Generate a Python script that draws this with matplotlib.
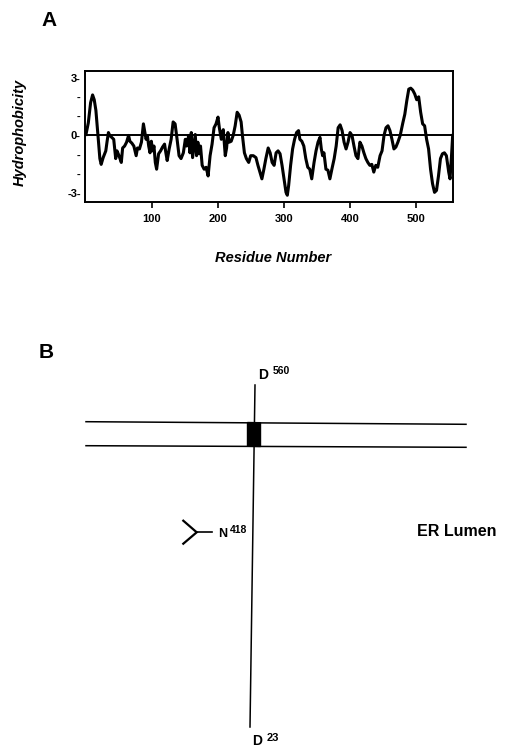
import numpy as np
import matplotlib
matplotlib.use('Agg')
import matplotlib.pyplot as plt

plt.rcParams['font.family'] = ['Liberation Sans', 'DejaVu Sans']
plt.rcParams['font.weight'] = 'bold'

# Perfil de hidrofobicidad
residuo = [0, 3.5, 7, 10, 12.5, 15, 17, 19, 21, 23,
           26, 30, 32, 34, 36, 39, 42, 45, 47, 50,
           53.5, 55.5, 58.5, 61.5, 64.5, 66.5, 69.5, 72.5, 76, 78,
           81, 84, 87, 89, 91, 93, 95, 97, 99, 101,
           103, 105, 107, 110, 113, 116, 119, 121, 123, 126,
           129, 132, 135, 138, 141, 144, 147.5, 150.5, 152.5, 155.5,
           157.5, 159.5, 161.5, 163.5, 165.5, 167.5, 169.5, 171.5, 173.5, 176,
           179, 182, 185, 188, 191, 194, 197, 200, 202, 205,
           208, 211, 213, 215, 217, 220, 223, 226, 229, 232,
           235, 237, 240, 243, 246.5, 249.5, 253.5, 257.5, 260.5, 263.5,
           266.5, 269.5, 272.5, 276, 279, 282, 285, 288, 291, 294,
           297, 300, 303, 305, 307, 310, 313, 316, 319, 322,
           324, 327, 330, 333, 336, 339, 342, 345.5, 348.5, 351.5,
           354.5, 356.5, 358.5, 360.5, 363.5, 366.5, 369.5, 372.5, 376, 379,
           382, 385, 388, 391, 394, 397, 400, 403, 406, 409,
           412, 415, 418, 421, 424, 427, 430, 433, 436, 439,
           442, 445.5, 448.5, 451.5, 454.5, 457.5, 460.5, 463.5, 466.5, 469.5,
           472.5, 476, 480, 483, 486, 489, 492, 495, 498, 501,
           504, 507, 510, 513, 516, 519, 522, 525, 528, 531,
           534, 537, 540, 543, 546, 549.5, 551.5, 553.5, 555.5]

hidrofobicidad = [0.05, 0.65, 1.7, 2.1, 1.85, 1.3, 0.5, -0.35, -1.2, -1.5,
                  -1.15, -0.8, -0.3, 0.15, 0, -0.1, -0.2, -1.2, -0.8, -1.05,
                  -1.4, -0.65, -0.55, -0.35, 0, -0.3, -0.4, -0.55, -1.05, -0.65,
                  -0.7, -0.35, 0.6, 0.2, -0.2, 0, -0.55, -0.9, -0.3, -0.8,
                  -0.55, -1.4, -1.75, -0.95, -0.8, -0.6, -0.45, -0.9, -1.3, -0.7,
                  -0.2, 0.7, 0.6, -0.2, -1.05, -1.2, -0.9, -0.2, -0.55, 0,
                  -0.9, 0.15, -1.15, -0.55, 0.05, -1.05, -0.35, -0.95, -0.55, -1.55,
                  -1.75, -1.65, -2.1, -1.05, -0.45, 0.4, 0.6, 0.95, 0.4, -0.2,
                  0.3, -1.05, -0.65, 0.15, -0.35, -0.3, 0, 0.5, 1.2, 1.05,
                  0.7, 0, -0.9, -1.2, -1.4, -1.05, -1.05, -1.15, -1.55, -1.9,
                  -2.25, -1.75, -1.2, -0.65, -0.9, -1.4, -1.55, -0.9, -0.8, -0.95,
                  -1.55, -2.25, -2.95, -3.1, -2.6, -1.55, -0.7, -0.2, 0.15, 0.25,
                  -0.2, -0.3, -0.55, -1.2, -1.65, -1.75, -2.25, -1.4, -0.8, -0.35,
                  -0.1, -0.7, -1.05, -0.9, -1.75, -1.8, -2.25, -1.75, -1.2, -0.55,
                  0.4, 0.55, 0.25, -0.35, -0.7, -0.35, 0.15, 0, -0.55, -1.05,
                  -1.2, -0.35, -0.55, -0.9, -1.2, -1.4, -1.55, -1.5, -1.9, -1.55,
                  -1.65, -1.05, -0.8, 0, 0.4, 0.5, 0.25, -0.2, -0.7, -0.6,
                  -0.35, 0, 0.65, 1.1, 1.8, 2.4, 2.45, 2.35, 2.15, 1.85,
                  2.0, 1.2, 0.6, 0.5, -0.2, -0.7, -1.75, -2.5, -2.95, -2.85,
                  -2.1, -1.2, -0.95, -0.9, -1.05, -1.9, -2.25, -1.2, 0]

xticks = [100, 200, 300, 400, 500]
yticks = [3, 2, 1, 0, -1, -2, -3]
ytick_labels = ['3-', '-', '-', '0-', '-', '-', '-3-']

W, H = 509, 747
fig = plt.figure(figsize=(W / 100, H / 100), dpi=100)

# Capa en pixeles para el esquema B y los textos sueltos
ov = fig.add_axes([0, 0, 1, 1])
ov.set_xlim(0, W)
ov.set_ylim(H, 0)
ov.axis('off')

# ---- Panel A ----
ax = fig.add_axes([85 / W, 1 - 202 / H, 368 / W, 131 / H])
ax.plot(residuo, hidrofobicidad, color='black', lw=2.2, solid_joinstyle='round')
ax.axhline(0, color='black', lw=1.4)
ax.set_xlim(-1.5, 556)
ax.set_ylim(-3.45, 3.34)
ax.set_xticks(xticks)
ax.set_xticklabels([str(t) for t in xticks], fontsize=8, fontweight='bold')
ax.set_yticks(yticks)
ax.set_yticklabels(ytick_labels, fontsize=8, fontweight='bold')
ax.tick_params(axis='x', direction='out', length=4.5, width=1.2, pad=4)
ax.tick_params(axis='y', length=0, pad=3)
for s in ax.spines.values():
    s.set_linewidth(1.4)

ov.text(41, 26, 'A', fontsize=15, fontweight='bold', va='baseline')
ov.text(19.5, 132.5, 'Hydrophobicity', fontsize=10.5, fontweight='bold',
        style='italic', rotation=90, ha='center', va='center')
ov.text(273, 262.5, 'Residue Number', fontsize=10.5, fontweight='bold',
        style='italic', ha='center', va='baseline')

# ---- Panel B ----
ov.text(39, 358, 'B', fontsize=15, fontweight='bold', va='baseline')

# membrana
ov.plot([86, 466], [421.7, 424.3], color='black', lw=1.1)
ov.plot([86, 466], [445.7, 447.3], color='black', lw=1.1)
# segmento transmembrana
ov.fill([247.5, 260.5, 260.5, 247.5], [422.5, 422.7, 446.5, 446.3], color='black')
# cadena
ov.plot([255, 250], [385, 727], color='black', lw=1.1)

ov.text(258, 379, 'D', fontsize=10, fontweight='bold', va='baseline')
ov.text(273, 374.5, '560', fontsize=7.5, fontweight='bold', va='baseline')

# glicosilacion N418
ov.plot([183.3, 196.7, 183.3], [520.7, 532.3, 543.7], color='black', lw=1.6,
        solid_joinstyle='miter')
ov.plot([196.7, 211.7], [532.3, 532.3], color='black', lw=1.2)
ov.text(218, 537, 'N', fontsize=9, fontweight='bold', va='baseline')
ov.text(230, 533, '418', fontsize=7.5, fontweight='bold', va='baseline')

ov.text(417, 535.7, 'ER Lumen', fontsize=11.5, fontweight='bold', va='baseline')

ov.text(252, 745, 'D', fontsize=10, fontweight='bold', va='baseline')
ov.text(267, 741, '23', fontsize=8, fontweight='bold', va='baseline')

fig.savefig('out.png', dpi=100)
